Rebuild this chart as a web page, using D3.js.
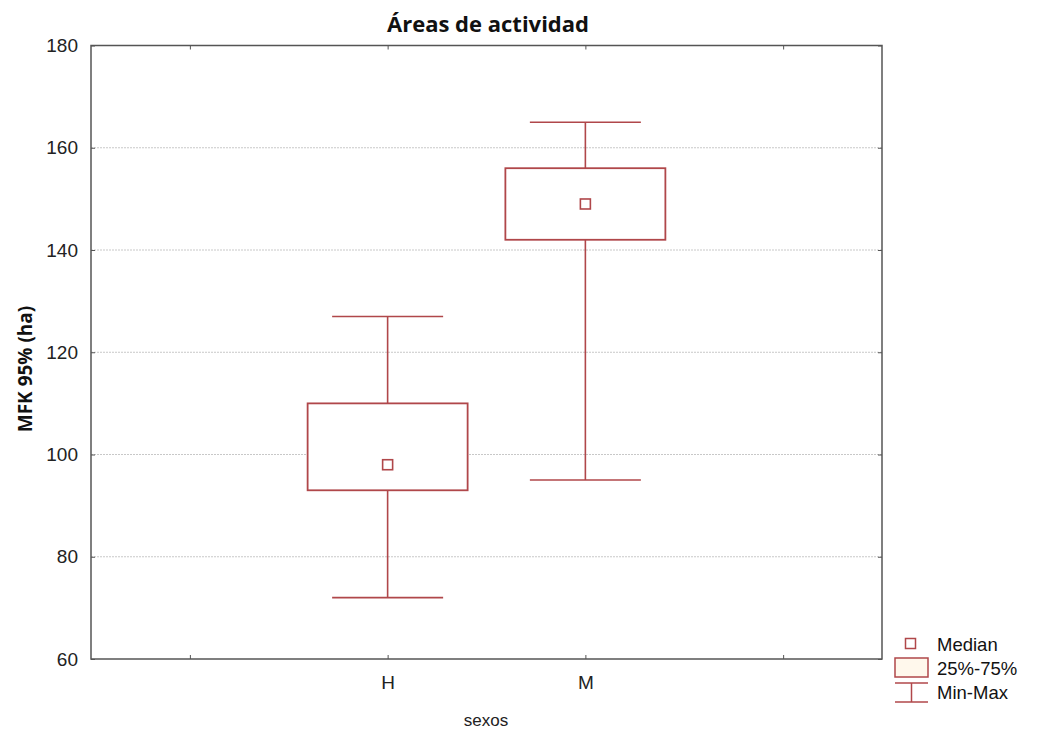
<!DOCTYPE html>
<html><head><meta charset="utf-8">
<script src="https://cdn.jsdelivr.net/npm/d3@7"></script>
<style>body{margin:0;background:#fff}svg{display:block}</style>
</head><body>
<svg id="c" width="1037" height="734"></svg>
<script>
const categories = ["H", "M"];
const minVals = [72, 95];
const q1Vals = [93, 142];
const medianVals = [98, 149];
const q3Vals = [110, 156];
const maxVals = [127, 165];
const yTicks = [60, 80, 100, 120, 140, 160, 180];
const xTickLabels = ["", "H", "M", ""];
const legendLabels = ["Median", "25%-75%", "Min-Max"];

const color = "#b0474a";
const svg = d3.select("#c");
const L = 91, R = 882, T = 45.5, B = 659;
const x = d3.scaleLinear().domain([-0.5, 3.5]).range([L, R]);
const y = d3.scaleLinear().domain([60, 180]).range([B, T]);
const font = "'Liberation Sans', Arial, sans-serif";

// gridlines
svg.append("g").selectAll("line").data(yTicks.filter(v => v > 60 && v < 180)).join("line")
  .attr("x1", L).attr("x2", R).attr("y1", d => y(d)).attr("y2", d => y(d))
  .attr("stroke", "#c8c8c8").attr("stroke-width", 1).attr("stroke-dasharray", "2,1");

// axes
const yAxis = d3.axisLeft(y).tickValues(yTicks).tickSize(-4).tickPadding(13);
const gy = svg.append("g").attr("transform", `translate(${L},0)`).call(yAxis);
gy.select(".domain").remove();
gy.selectAll("text").attr("font-family", font).attr("font-size", 19).attr("fill", "#222");
gy.selectAll("line").attr("stroke", "#555");
const gyr = svg.append("g").attr("transform", `translate(${R},0)`).call(d3.axisRight(y).tickValues(yTicks).tickSize(-4).tickFormat(""));
gyr.select(".domain").remove(); gyr.selectAll("line").attr("stroke", "#555");

const xAxis = d3.axisBottom(x).tickValues([0,1,2,3]).tickSize(-4).tickPadding(17).tickFormat(i => xTickLabels[i]);
const gx = svg.append("g").attr("transform", `translate(0,${B})`).call(xAxis);
gx.select(".domain").remove();
gx.selectAll("text").attr("font-family", font).attr("font-size", 19).attr("fill", "#222");
gx.selectAll("line").attr("stroke", "#555");
const gxt = svg.append("g").attr("transform", `translate(0,${T})`).call(d3.axisTop(x).tickValues([0,1,2,3]).tickSize(-4).tickFormat(""));
gxt.select(".domain").remove(); gxt.selectAll("line").attr("stroke", "#555");

// frame
svg.append("rect").attr("x", L).attr("y", T).attr("width", R - L).attr("height", B - T)
  .attr("fill", "none").attr("stroke", "#555").attr("stroke-width", 1.5);

// boxes
const boxW = 160, capW = 111, medS = 10;
const g = svg.append("g");
categories.forEach((c, i) => {
  const cx = x(i + 1);
  g.append("line").attr("x1", cx).attr("x2", cx).attr("y1", y(maxVals[i])).attr("y2", y(minVals[i]))
    .attr("stroke", color).attr("stroke-width", 1.6);
  [minVals[i], maxVals[i]].forEach(v => g.append("line").attr("x1", cx - capW/2).attr("x2", cx + capW/2)
    .attr("y1", y(v)).attr("y2", y(v)).attr("stroke", color).attr("stroke-width", 1.6));
  g.append("rect").attr("x", cx - boxW/2).attr("width", boxW).attr("y", y(q3Vals[i]))
    .attr("height", y(q1Vals[i]) - y(q3Vals[i])).attr("fill", "#fff").attr("stroke", color).attr("stroke-width", 1.8);
  g.append("rect").attr("x", cx - medS/2).attr("y", y(medianVals[i]) - medS/2).attr("width", medS).attr("height", medS)
    .attr("fill", "#fff").attr("stroke", color).attr("stroke-width", 1.6);
});

// titles
svg.append("text").attr("x", 488).attr("y", 32).attr("text-anchor", "middle")
  .attr("font-family", "'Open Sans', sans-serif").attr("font-weight", "bold").attr("font-size", 22).attr("fill", "#111")
  .text("Áreas de actividad");
svg.append("text").attr("transform", "translate(32,369) rotate(-90)").attr("text-anchor", "middle")
  .attr("font-family", "'Open Sans', sans-serif").attr("font-weight", "bold").attr("font-size", 19).attr("fill", "#111")
  .text("MFK 95% (ha)");
svg.append("text").attr("x", 486).attr("y", 726).attr("text-anchor", "middle")
  .attr("font-family", font).attr("font-size", 17).attr("fill", "#222").text("sexos");

// legend
const lg = svg.append("g");
lg.append("rect").attr("x", 905.5).attr("y", 638.5).attr("width", 10).attr("height", 10)
  .attr("fill", "#fff").attr("stroke", color).attr("stroke-width", 1.5);
lg.append("rect").attr("x", 895).attr("y", 658).attr("width", 33).attr("height", 19)
  .attr("fill", "#fff8ec").attr("stroke", color).attr("stroke-width", 1.5);
lg.append("line").attr("x1", 895).attr("x2", 928).attr("y1", 683).attr("y2", 683).attr("stroke", color).attr("stroke-width", 1.5);
lg.append("line").attr("x1", 895).attr("x2", 928).attr("y1", 702).attr("y2", 702).attr("stroke", color).attr("stroke-width", 1.5);
lg.append("line").attr("x1", 911.5).attr("x2", 911.5).attr("y1", 683).attr("y2", 702).attr("stroke", color).attr("stroke-width", 1.5);
const lys = [645, 669, 693];
legendLabels.forEach((t, i) => lg.append("text").attr("x", 937).attr("y", lys[i]).attr("dy", "0.35em")
  .attr("font-family", font).attr("font-size", 18.5).attr("fill", "#111").text(t));
</script>
</body></html>
